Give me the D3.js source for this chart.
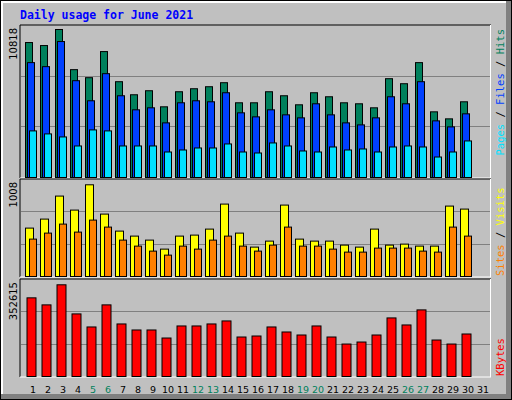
<!DOCTYPE html>
<html><head><meta charset="utf-8">
<script src="https://cdn.jsdelivr.net/npm/d3@7"></script>
<style>body{margin:0;background:#fff}</style>
</head><body><div id="viz"></div>
<script>
let days = d3.range(1, 32);
let weekend = [5, 6, 12, 13, 19, 20, 26, 27];
let hits = [9865,9645,10818,7883,7296,9204,7002,6048,6342,5167,6268,6488,6635,6929,5461,5461,6268,5975,5314,6195,5901,5461,5388,5094,7222,6855,8397,4800,4287,5534];
let files = [8397,8103,9938,7076,5608,7589,5975,4947,5094,3993,5461,5608,5534,6195,4727,4433,4947,4580,4360,5388,4580,3993,3846,4360,5901,5388,7002,4140,3699,4654];
let pages = [3406,3186,2965,2305,3479,3406,2305,2305,2305,1864,2011,2158,2158,2452,1864,1791,2525,2305,1938,1864,2231,2011,2085,1864,2231,2305,2231,1497,1864,2672];
let visits = [532,631,884,730,1008,686,499,444,400,301,444,455,521,796,477,323,389,785,411,389,389,345,323,521,345,356,334,334,774,741];
let sites = [411,477,576,488,620,543,400,334,279,235,334,301,400,444,334,279,345,543,334,334,301,268,268,312,312,312,279,268,543,444];
let kbytes = [302445,275418,352615,240669,190476,275418,202059,178893,178893,148005,194337,194337,202059,213642,151866,155727,190476,171171,159588,194337,151866,124839,132561,159588,225225,198198,256113,140283,124839,163449];

let w = 512, h = 400;
let svg = d3.select("#viz").append("svg").attr("width", w).attr("height", h)
    .style("font-family", "DejaVu Sans Mono");

// frame
svg.append("rect").attr("x", 0).attr("y", 0).attr("width", w).attr("height", h).attr("fill", "#000");
svg.append("rect").attr("x", 1).attr("y", 1).attr("width", w - 2).attr("height", h - 2).attr("fill", "#808080");
svg.append("rect").attr("x", 1).attr("y", 1).attr("width", w - 7).attr("height", h - 7).attr("fill", "#fff");
svg.append("rect").attr("x", 3).attr("y", 3).attr("width", w - 9).attr("height", h - 9).attr("fill", "#c0c0c0");

svg.append("text").attr("x", 20).attr("y", 19).attr("font-size", 11.5).attr("font-weight", "bold")
    .attr("fill", "#0000ff").text("Daily usage for June 2021");

let x = d3.scaleLinear().domain([1, 31]).range([25, 475]);

let panels = [
    {top: 25, bottom: 177, max: 10818, topY: 29, label: "10818"},
    {top: 179, bottom: 276, max: 1008, topY: 184.3, label: "1008"},
    {top: 279, bottom: 376, max: 352615, topY: 284.3, label: "352615"}
];
panels.forEach(function (p) {
    p.y = d3.scaleLinear().domain([0, p.max]).range([p.bottom, p.topY]);
    svg.append("line").attr("x1", 20).attr("x2", 491).attr("y1", p.top).attr("y2", p.top).attr("stroke", "#000");
    svg.append("line").attr("x1", 20).attr("x2", 20).attr("y1", p.top).attr("y2", p.bottom + 1).attr("stroke", "#000");
    svg.append("line").attr("x1", 490.5).attr("x2", 490.5).attr("y1", p.top).attr("y2", p.bottom + 1).attr("stroke", "#fff");
    svg.append("line").attr("x1", 20).attr("x2", 491).attr("y1", p.bottom + 1).attr("y2", p.bottom + 1).attr("stroke", "#fff");
    let span = p.bottom - p.top;
    [1, 2].forEach(function (k) {
        let gy = Math.round(p.bottom - span * k / 3) + 0.5;
        svg.append("line").attr("x1", 21).attr("x2", 490).attr("y1", gy).attr("y2", gy).attr("stroke", "#808080");
    });
    svg.append("text").attr("transform", "translate(17," + (p.top + 3) + ") rotate(-90)")
        .attr("text-anchor", "end").attr("font-size", 10).attr("font-family", "DejaVu Sans")
        .attr("fill", "#000").text(p.label);
});

function bars(data, p, dx, bw, color) {
    svg.append("g").selectAll("rect").data(data).enter().append("rect")
        .attr("x", (d, i) => x(i + 1) + dx + 0.5)
        .attr("y", d => p.y(d) + 0.5)
        .attr("width", bw)
        .attr("height", d => p.bottom - p.y(d))
        .attr("fill", color).attr("stroke", "#000");
}
bars(hits, panels[0], 0, 7, "#00805c");
bars(files, panels[0], 2, 7, "#0040ff");
bars(pages, panels[0], 4, 7, "#00e0ff");
bars(visits, panels[1], 0, 8, "#ffff00");
bars(sites, panels[1], 4, 7, "#ff8000");
bars(kbytes, panels[2], 1.5, 9, "#ff0000");

svg.append("g").selectAll("text").data(days).enter().append("text")
    .attr("x", d => x(d) + 8).attr("y", 393).attr("text-anchor", "middle")
    .attr("font-size", 9.5).attr("font-family", "DejaVu Sans")
    .attr("fill", d => weekend.includes(d) ? "#00805c" : "#000")
    .text(d => d);

// right side legends
function legend(parts, y, anchor) {
    let t = svg.append("text").attr("transform", "translate(504," + y + ") rotate(-90)")
        .attr("text-anchor", anchor).attr("font-size", 10.5);
    parts.forEach(function (pt) { t.append("tspan").attr("fill", pt[1]).text(pt[0]); });
}
legend([["Pages", "#00e0ff"], [" / ", "#000"], ["Files", "#0040ff"], [" / ", "#000"], ["Hits", "#00805c"]], 29, "end");
legend([["Sites", "#ff8000"], [" / ", "#000"], ["Visits", "#ffff00"]], 276, "start");
legend([["KBytes", "#ff0000"]], 376, "start");
</script>
</body></html>
